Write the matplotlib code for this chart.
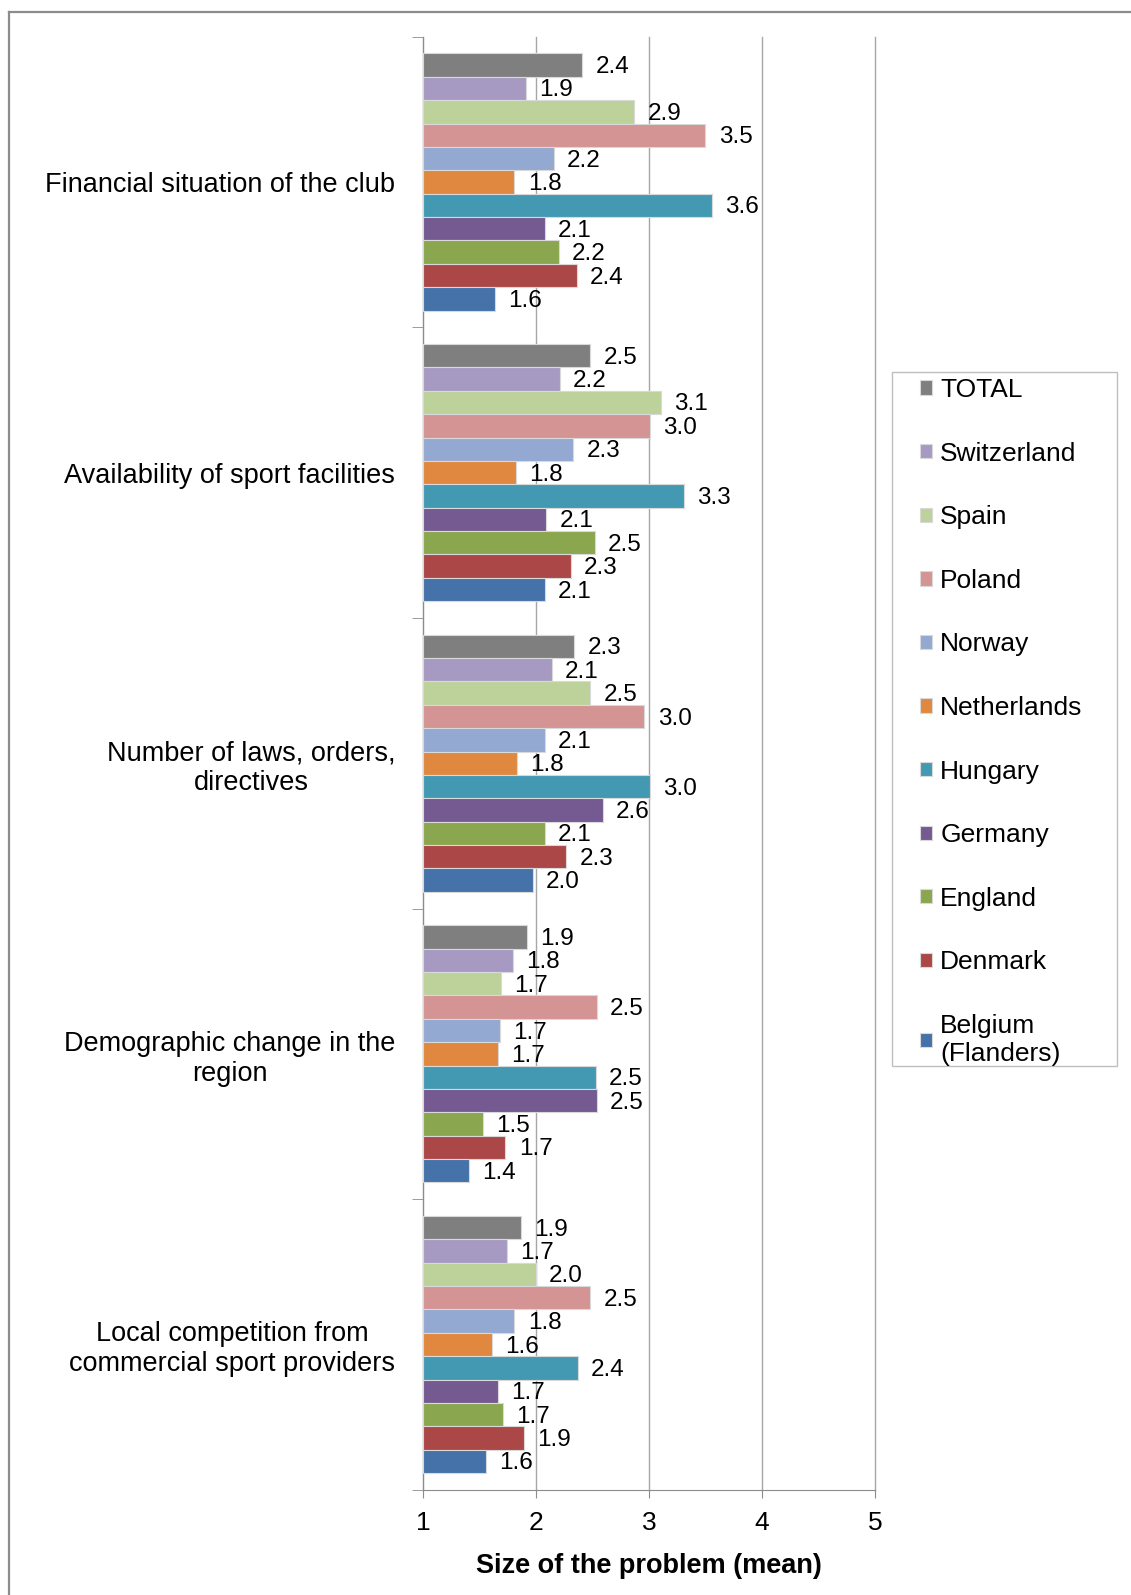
import matplotlib.pyplot as plt
import numpy as np
from matplotlib.lines import Line2D
from matplotlib.patches import Rectangle

plt.rcParams['font.family'] = ['Liberation Sans', 'DejaVu Sans']

categories = [
    "Financial situation of the club",
    "Availability of sport facilities",
    "Number of laws, orders,\ndirectives",
    "Demographic change in the\nregion",
    "Local competition from\ncommercial sport providers",
]
countries = ["TOTAL", "Switzerland", "Spain", "Poland", "Norway", "Netherlands",
             "Hungary", "Germany", "England", "Denmark", "Belgium\n(Flanders)"]
colors = ["#7f7f7f", "#a79ac2", "#bdd29b", "#d49494", "#94a9d1", "#e0883f",
          "#4399b2", "#745a90", "#8aa64e", "#ab4746", "#4572a8"]

# values per country, one per category (top to bottom)
total = [2.41, 2.48, 2.34, 1.92, 1.87]
switzerland = [1.91, 2.21, 2.14, 1.80, 1.74]
spain = [2.87, 3.11, 2.48, 1.69, 2.00]
poland = [3.50, 3.01, 2.96, 2.54, 2.48]
norway = [2.16, 2.33, 2.08, 1.68, 1.81]
netherlands = [1.81, 1.82, 1.83, 1.66, 1.61]
hungary = [3.56, 3.31, 3.01, 2.53, 2.37]
germany = [2.08, 2.09, 2.59, 2.54, 1.66]
england = [2.20, 2.52, 2.08, 1.53, 1.71]
denmark = [2.36, 2.31, 2.27, 1.73, 1.89]
belgium = [1.64, 2.08, 1.97, 1.41, 1.56]

series = [total, switzerland, spain, poland, norway, netherlands,
          hungary, germany, england, denmark, belgium]

fig = plt.figure(figsize=(11.31, 15.95), dpi=100)
ax = fig.add_axes([0.374, 0.066, 0.3995, 0.911])

n = len(series)
bar_h = 0.0805
centers = np.arange(len(categories))
for i, (vals, name, col) in enumerate(zip(series, countries, colors)):
    y = centers - (n - 1) / 2 * bar_h + i * bar_h
    v = np.array(vals)
    ax.barh(y, v - 1, left=1, height=bar_h, color=col, edgecolor="#d9d9d9",
            linewidth=0.8, label=name, zorder=3)
    for yy, vv in zip(y, v):
        ax.annotate(f"{vv:.1f}", (vv, yy), xytext=(9.5, -1.5), textcoords="offset points",
                    va="center", ha="left", fontsize=17.5, zorder=4)

ax.set_xlim(1, 5)
ax.set_ylim(len(categories) - 0.5, -0.5)
ax.set_xticks([1, 2, 3, 4, 5])
ax.tick_params(axis="x", labelsize=19, length=6, color="#8c8c8c", pad=9)
ax.set_yticks(centers)
ax.set_yticklabels(categories, fontsize=19.5, multialignment="center")
ax.set_yticks(np.arange(len(categories) + 1) - 0.5, minor=True)
ax.tick_params(axis="y", which="major", length=0, pad=20)
ax.tick_params(axis="y", which="minor", length=8, color="#8c8c8c")
ax.grid(axis="x", color="#a6a6a6", linewidth=1, zorder=0)
for line in ax.get_xgridlines():
    line.set_clip_on(False)
for s in ["top", "right"]:
    ax.spines[s].set_visible(False)
for s in ["left", "bottom"]:
    ax.spines[s].set_color("#8c8c8c")
ax.set_xlabel("Size of the problem (mean)", fontsize=19.5, fontweight="bold", labelpad=13)

leg = fig.legend(*ax.get_legend_handles_labels(), loc="upper left",
                 bbox_to_anchor=(920 / 1131, 1 - 378 / 1595), fontsize=19,
                 frameon=False, handlelength=0.46, handleheight=0.46,
                 handletextpad=0.31, labelspacing=1.5, borderpad=0, borderaxespad=0)
fig.patches.append(Rectangle((892 / 1131, 1 - 1066 / 1595), 225 / 1131, 694 / 1595,
                             transform=fig.transFigure, fill=False,
                             edgecolor="#bfbfbf", linewidth=1))

# outer frame (left and top edges only)
fig.add_artist(Line2D([9 / 1131, 9 / 1131], [0, 1 - 12 / 1595], transform=fig.transFigure,
                      color="#8c8c8c", linewidth=1.6))
fig.add_artist(Line2D([9 / 1131, 1], [1 - 12 / 1595, 1 - 12 / 1595], transform=fig.transFigure,
                      color="#8c8c8c", linewidth=1.6))

fig.savefig("out.png", dpi=100)
